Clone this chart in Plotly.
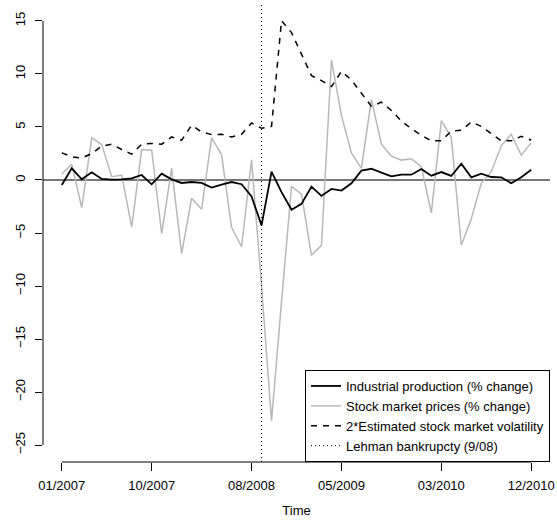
import plotly.graph_objects as go

months = [f"{m:02d}/{y}" for y in range(2007, 2011) for m in range(1, 13)]
tick_labels = ["01/2007", "10/2007", "08/2008", "05/2009", "03/2010", "12/2010"]
y_ticks = [-25, -20, -15, -10, -5, 0, 5, 10, 15]
lehman = "09/2008"

industrial = [-0.47, 1.1, 0.06, 0.72, 0.1, 0.03, 0.06, 0.16, 0.47, -0.41, 0.6, 0.06,
              -0.28, -0.19, -0.28, -0.72, -0.44, -0.19, -0.4, -1.56, -4.28, 0.78, -1.15, -2.8,
              -2.25, -0.63, -1.5, -0.84, -1.0, -0.31, 0.88, 1.06, 0.69, 0.34, 0.5, 0.5,
              1.03, 0.41, 0.75, 0.38, 1.53, 0.25, 0.6, 0.28, 0.25, -0.31, 0.25, 0.97]
stock = [0.56, 1.47, -2.6, 3.97, 3.34, 0.31, 0.47, -4.44, 2.87, 2.81, -5.05, 1.1,
         -6.94, -1.72, -2.75, 3.97, 2.4, -4.47, -6.3, 1.9, -10.0, -22.7, -11.5, -0.6,
         -1.34, -7.1, -6.16, 11.3, 6.09, 2.56, 1.1, 7.6, 3.375, 2.25, 1.875, 2.0,
         1.25, -3.1, 5.6, 4.0, -6.16, -3.66, -0.31, 0.78, 3.22, 4.31, 2.34, 3.5]
volatility = [2.56, 2.19, 2.06, 2.5, 3.19, 3.375, 2.88, 2.44, 3.375, 3.44, 3.375, 4.06,
              3.75, 5.16, 4.53, 4.28, 4.31, 4.06, 4.31, 5.37, 4.875, 5.06, 15.03, 13.9,
              11.87, 9.84, 9.375, 8.81, 10.25, 9.44, 8.19, 6.94, 7.34, 6.56, 5.56, 4.84,
              4.22, 3.69, 3.69, 4.625, 4.69, 5.47, 5.06, 4.375, 3.69, 3.69, 4.125, 3.75]

idx = list(range(len(months)))
pos = {m: i for i, m in enumerate(months)}
tickvals = [pos[t] for t in tick_labels]

FONT = "Liberation Sans, Arial, Helvetica, sans-serif"

fig = go.Figure()
fig.add_trace(go.Scatter(x=idx, y=stock, mode="lines", name="Stock market prices (% change)",
                         line=dict(color="#b8b8b8", width=1.5), legendrank=2))
fig.add_trace(go.Scatter(x=idx, y=industrial, mode="lines", name="Industrial production (% change)",
                         line=dict(color="black", width=1.8), legendrank=1))
fig.add_trace(go.Scatter(x=idx, y=volatility, mode="lines", name="2*Estimated stock market volatility",
                         line=dict(color="black", width=1.5, dash="6px,6px"), legendrank=3))
fig.add_trace(go.Scatter(x=[None], y=[None], mode="lines", name="Lehman bankrupcty (9/08)",
                         line=dict(color="black", width=1, dash="1px,3px"), legendrank=4))

# zero line, Lehman line
fig.add_shape(type="line", xref="paper", yref="y", x0=0, x1=1, y0=0, y1=0,
              line=dict(color="#777777", width=1.8), layer="below")
fig.add_shape(type="line", xref="x", yref="paper", x0=pos[lehman], x1=pos[lehman], y0=0, y1=1,
              line=dict(color="black", width=1, dash="1px,3px"))
# R-style axis lines spanning only the ticks
fig.add_shape(type="line", xref="x", yref="paper", x0=tickvals[0], x1=tickvals[-1], y0=0, y1=0,
              line=dict(color="black", width=1))
fig.add_shape(type="line", xref="paper", yref="y", x0=0, x1=0, y0=y_ticks[0], y1=y_ticks[-1],
              line=dict(color="black", width=1))

n = len(months) - 1
xpad = 0.04 * n
ypad = 0.04 * (y_ticks[-1] - y_ticks[0])

fig.update_layout(
    width=557, height=526,
    margin=dict(l=43, r=7, t=4, b=64),
    plot_bgcolor="white", paper_bgcolor="white",
    font=dict(family=FONT, size=13, color="black"),
    showlegend=True,
    legend=dict(x=1, y=0, xanchor="right", yanchor="bottom",
                bordercolor="black", borderwidth=1, bgcolor="white",
                font=dict(size=13), traceorder="normal"),
    xaxis=dict(range=[-xpad, n + xpad], tickmode="array", tickvals=tickvals, ticktext=tick_labels,
               ticks="outside", ticklen=8, tickcolor="black", tickwidth=1,
               showgrid=False, zeroline=False, showline=False, automargin=False,
               ticklabelstandoff=3,
               title=dict(text="Time", standoff=14, font=dict(size=13))),
    yaxis=dict(range=[y_ticks[0] - ypad, y_ticks[-1] + ypad], tickmode="array", tickvals=y_ticks,
               ticks="outside", ticklen=7, tickcolor="black", tickwidth=1, tickangle=-90,
               showgrid=False, zeroline=False, showline=False, automargin=False,
               ticklabelstandoff=5),
)

fig.write_html("out.html", config={"displayModeBar": False},
               post_script=["document.body.style.margin='0px';"])
